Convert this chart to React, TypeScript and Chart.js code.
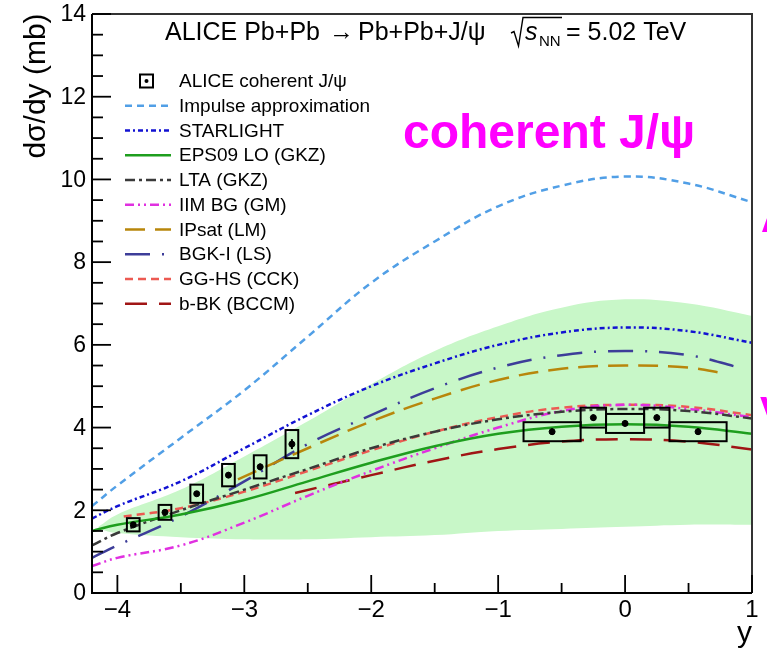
import React, { useEffect, useRef } from "react";
import { Chart, registerables } from "chart.js";

Chart.register(...registerables);

// ---------- axis ranges / ticks ----------
const X_MIN = -4.2;
const X_MAX = 1;
const Y_MIN = 0;
const Y_MAX = 14;
const xTickValues = [-4, -3, -2, -1, 0, 1];
const xTickLabels = ["\u22124", "\u22123", "\u22122", "\u22121", "0", "1"];
const yTickValues = [0, 2, 4, 6, 8, 10, 12, 14];
const yTickLabels = ["0", "2", "4", "6", "8", "10", "12", "14"];

// ---------- uncertainty band ----------
const bandX = [-4.15, -4.0, -3.5, -3.0, -2.5, -2.0, -1.5, -1.0, -0.5, 0, 0.5, 1.0];
const bandUpper = [1.6, 1.9, 2.5, 3.3, 4.15, 5.05, 5.85, 6.45, 6.9, 7.1, 7.0, 6.7];
const bandLower = [1.55, 1.45, 1.35, 1.3, 1.3, 1.35, 1.4, 1.5, 1.55, 1.6, 1.65, 1.65];

// ---------- model curves ----------
const fullGrid = [-4.2, -4.0, -3.5, -3.0, -2.5, -2.0, -1.5, -1.0, -0.5, 0, 0.5, 1.0];
const impulseY = [2.1, 2.6, 3.75, 4.9, 6.2, 7.5, 8.5, 9.35, 9.85, 10.07, 9.9, 9.45];
const starlightY = [1.8, 2.1, 2.7, 3.5, 4.3, 5.0, 5.55, 6.0, 6.3, 6.42, 6.33, 6.05];
const eps09Y = [1.5, 1.65, 1.9, 2.25, 2.7, 3.15, 3.55, 3.85, 4.02, 4.08, 4.02, 3.85];
const ltaY = [1.15, 1.45, 2.0, 2.5, 3.0, 3.5, 3.9, 4.2, 4.38, 4.45, 4.4, 4.22];
const iimY = [0.65, 0.85, 1.15, 1.7, 2.35, 2.95, 3.5, 4.0, 4.4, 4.55, 4.45, 4.25];
const ipsatX = [-3.05, -2.5, -2.0, -1.5, -1.0, -0.5, 0, 0.5, 0.8];
const ipsatY = [2.75, 3.5, 4.15, 4.7, 5.15, 5.42, 5.5, 5.45, 5.3];
const bgkX = [-4.2, -4.0, -3.5, -3.0, -2.5, -2.0, -1.5, -1.0, -0.5, 0, 0.5, 0.9];
const bgkY = [0.85, 1.15, 1.85, 2.7, 3.6, 4.3, 4.95, 5.45, 5.75, 5.85, 5.75, 5.45];
const gghsX = [-3.95, -3.5, -3.0, -2.5, -2.0, -1.5, -1.0, -0.5, 0, 0.5, 1.0];
const gghsY = [1.85, 2.05, 2.45, 2.95, 3.45, 3.9, 4.25, 4.48, 4.55, 4.5, 4.3];
const bbkX = [-2.6, -2.0, -1.5, -1.0, -0.5, 0, 0.5, 1.0];
const bbkY = [2.42, 2.85, 3.2, 3.48, 3.66, 3.72, 3.66, 3.47];

// ---------- ALICE data ----------
const dataY = [-3.875, -3.625, -3.375, -3.125, -2.875, -2.625, -0.575, -0.25, 0, 0.25, 0.575];
const dataVal = [1.65, 1.95, 2.4, 2.85, 3.05, 3.6, 3.9, 4.24, 4.1, 4.24, 3.9];
const dataStat = [0.05, 0.05, 0.06, 0.07, 0.08, 0.12, 0.08, 0.08, 0.07, 0.08, 0.08];
const dataSys = [0.16, 0.18, 0.22, 0.27, 0.28, 0.34, 0.23, 0.24, 0.23, 0.24, 0.23];
const boxLow = [-3.925, -3.675, -3.425, -3.175, -2.925, -2.675, -0.8, -0.35, -0.15, 0.15, 0.35];
const boxHigh = [-3.825, -3.575, -3.325, -3.075, -2.825, -2.575, -0.35, -0.15, 0.15, 0.35, 0.8];

const legendLabels = [
  "ALICE coherent J/\u03c8",
  "Impulse approximation",
  "STARLIGHT",
  "EPS09 LO (GKZ)",
  "LTA (GKZ)",
  "IIM BG (GM)",
  "IPsat (LM)",
  "BGK-I (LS)",
  "GG-HS (CCK)",
  "b-BK (BCCM)",
];

const FONT = '"Liberation Sans", Arial, sans-serif';

function pts(xs: number[], ys: number[]) {
  return xs.map((x, i) => ({ x, y: ys[i] }));
}

function curve(label: string, xs: number[], ys: number[], color: string, dash: number[]) {
  return {
    label,
    data: pts(xs, ys),
    borderColor: color,
    backgroundColor: color,
    borderWidth: 2.5,
    borderDash: dash,
    pointRadius: 0,
    fill: false,
    tension: 0.4,
    order: 10,
  };
}

const framePlugin = {
  id: "framePlugin",
  afterDatasetsDraw(chart: any) {
    const ctx = chart.ctx;
    const xs = chart.scales.x;
    const ys = chart.scales.y;
    ctx.save();
    ctx.strokeStyle = "#000";
    ctx.lineWidth = 2;
    ctx.setLineDash([]);
    for (let i = 0; i < dataY.length; i++) {
      const x0 = xs.getPixelForValue(boxLow[i]);
      const x1 = xs.getPixelForValue(boxHigh[i]);
      const y0 = ys.getPixelForValue(dataVal[i] + dataSys[i]);
      const y1 = ys.getPixelForValue(dataVal[i] - dataSys[i]);
      ctx.strokeRect(x0, y0, x1 - x0, y1 - y0);
      const cx = xs.getPixelForValue(dataY[i]);
      ctx.beginPath();
      ctx.moveTo(cx, ys.getPixelForValue(dataVal[i] + dataStat[i]));
      ctx.lineTo(cx, ys.getPixelForValue(dataVal[i] - dataStat[i]));
      ctx.stroke();
    }
    ctx.restore();
  },
  afterDraw(chart: any) {
    const ctx = chart.ctx;
    const { left, right, top, bottom } = chart.chartArea;
    const xs = chart.scales.x;
    const ys = chart.scales.y;
    ctx.save();
    ctx.setLineDash([]);
    // frame
    ctx.strokeStyle = "#333";
    ctx.lineWidth = 2;
    ctx.beginPath();
    ctx.moveTo(left, top);
    ctx.lineTo(right, top);
    ctx.lineTo(right, bottom);
    ctx.stroke();
    ctx.strokeStyle = "#000";
    ctx.beginPath();
    ctx.moveTo(left, top);
    ctx.lineTo(left, bottom);
    ctx.lineTo(right, bottom);
    ctx.stroke();
    // x ticks
    ctx.lineWidth = 1.8;
    for (let v = -4; v <= X_MAX + 1e-6; v += 0.5) {
      const px = xs.getPixelForValue(v);
      const major = Math.abs(v - Math.round(v)) < 1e-6;
      ctx.beginPath();
      ctx.moveTo(px, bottom);
      ctx.lineTo(px, bottom - (major ? 18 : 10));
      ctx.stroke();
    }
    // y ticks
    for (let v = Y_MIN; v <= Y_MAX + 1e-6; v += 0.5) {
      const py = ys.getPixelForValue(v);
      const major = Math.abs(v / 2 - Math.round(v / 2)) < 1e-6;
      ctx.beginPath();
      ctx.moveTo(left, py);
      ctx.lineTo(left + (major ? 19 : 11), py);
      ctx.stroke();
    }
    // tick labels
    ctx.fillStyle = "#000";
    ctx.font = `24px ${FONT}`;
    ctx.textAlign = "center";
    ctx.textBaseline = "top";
    xTickValues.forEach((v, i) => {
      ctx.fillText(xTickLabels[i], xs.getPixelForValue(v), bottom + 5);
    });
    ctx.font = `23px ${FONT}`;
    ctx.textAlign = "right";
    ctx.textBaseline = "middle";
    yTickValues.forEach((v, i) => {
      ctx.fillText(yTickLabels[i], 86, ys.getPixelForValue(v) + 1);
    });
    // axis titles
    ctx.font = `30px ${FONT}`;
    ctx.textAlign = "right";
    ctx.textBaseline = "alphabetic";
    ctx.fillText("y", right, 642);
    ctx.save();
    ctx.translate(37, 86);
    ctx.rotate(-Math.PI / 2);
    ctx.textAlign = "center";
    ctx.textBaseline = "middle";
    ctx.fillText("d\u03c3/dy (mb)", 0, 0);
    ctx.restore();

    // title
    ctx.textAlign = "left";
    ctx.textBaseline = "alphabetic";
    ctx.font = `25px ${FONT}`;
    ctx.fillText("ALICE Pb+Pb", 165, 40);
    ctx.fillText("\u2192", 329, 40);
    ctx.fillText("Pb+Pb+J/\u03c8", 358, 40);
    ctx.lineWidth = 1.4;
    ctx.strokeStyle = "#000";
    ctx.beginPath();
    ctx.moveTo(511, 33);
    ctx.lineTo(514, 31.5);
    ctx.lineTo(518.5, 46);
    ctx.lineTo(523, 17.5);
    ctx.lineTo(562, 17.5);
    ctx.stroke();
    ctx.font = `italic 25px ${FONT}`;
    ctx.fillText("s", 525, 40);
    ctx.font = `15px ${FONT}`;
    ctx.fillText("NN", 539, 46);
    ctx.font = `25px ${FONT}`;
    ctx.fillText("= 5.02 TeV", 566, 40);

    // legend
    ctx.font = `19px ${FONT}`;
    ctx.textBaseline = "middle";
    const ds = chart.data.datasets;
    legendLabels.forEach((lab, i) => {
      const y = 81 + i * 24.75;
      if (i === 0) {
        ctx.setLineDash([]);
        ctx.lineWidth = 2;
        ctx.strokeStyle = "#000";
        ctx.strokeRect(140, y - 6.5, 13, 13);
        ctx.beginPath();
        ctx.arc(146.5, y, 2, 0, Math.PI * 2);
        ctx.fill();
      } else {
        const d = ds[i + 1];
        ctx.strokeStyle = d.borderColor;
        ctx.lineWidth = d.borderWidth;
        ctx.setLineDash(d.borderDash);
        ctx.beginPath();
        ctx.moveTo(125, y);
        ctx.lineTo(171, y);
        ctx.stroke();
      }
      ctx.setLineDash([]);
      ctx.fillStyle = "#000";
      ctx.fillText(lab, 179, y + 1);
    });

    // annotation
    ctx.fillStyle = "#ff00ff";
    ctx.font = `bold 48px ${FONT}`;
    ctx.textBaseline = "alphabetic";
    ctx.textAlign = "left";
    ctx.fillText("coherent J/\u03c8", 403, 148);
    ctx.font = `bold 40px ${FONT}`;
    ctx.fillText("A", 761, 232);
    ctx.fillText("V", 760, 425);
    ctx.restore();
  },
};

export default function App() {
  const ref = useRef<HTMLCanvasElement | null>(null);
  useEffect(() => {
    if (!ref.current) return;
    const datasets: any[] = [
      {
        label: "band upper",
        data: pts(bandX, bandUpper),
        borderWidth: 0,
        borderColor: "rgba(0,0,0,0)",
        backgroundColor: "#c8f7c8",
        pointRadius: 0,
        tension: 0.4,
        fill: "+1",
        order: 100,
      },
      {
        label: "band lower",
        data: pts(bandX, bandLower),
        borderWidth: 0,
        borderColor: "rgba(0,0,0,0)",
        pointRadius: 0,
        tension: 0.4,
        fill: false,
        order: 100,
      },
      curve("Impulse approximation", fullGrid, impulseY, "#519fe6", [7, 5]),
      curve("STARLIGHT", fullGrid, starlightY, "#1212d2", [5, 3, 2, 3]),
      curve("EPS09 LO (GKZ)", fullGrid, eps09Y, "#1e9e1e", []),
      curve("LTA (GKZ)", fullGrid, ltaY, "#3a3a3a", [10, 4, 3, 4]),
      curve("IIM BG (GM)", fullGrid, iimY, "#e030e0", [9, 4, 2, 4, 2, 4]),
      curve("IPsat (LM)", ipsatX, ipsatY, "#b8860b", [20, 10]),
      curve("BGK-I (LS)", bgkX, bgkY, "#3d3d99", [25, 12, 2, 12]),
      curve("GG-HS (CCK)", gghsX, gghsY, "#ec5a52", [8, 5]),
      curve("b-BK (BCCM)", bbkX, bbkY, "#a01515", [22, 12]),
      {
        label: "ALICE coherent J/\u03c8",
        data: pts(dataY, dataVal),
        showLine: false,
        pointRadius: 3,
        pointBackgroundColor: "#000",
        pointBorderColor: "#000",
        borderColor: "#000",
        order: 0,
      },
    ];
    const chart = new Chart(ref.current, {
      type: "line",
      data: { datasets },
      options: {
        animation: false,
        responsive: false,
        devicePixelRatio: 1,
        layout: { padding: { left: 92, top: 14, right: 15, bottom: 58 } },
        scales: {
          x: { type: "linear", min: X_MIN, max: X_MAX, display: false },
          y: { type: "linear", min: Y_MIN, max: Y_MAX, display: false },
        },
        plugins: {
          legend: { display: false },
          tooltip: { enabled: false },
        },
      },
      plugins: [framePlugin],
    } as any);
    return () => chart.destroy();
  }, []);
  return (
    <div style={{ position: "fixed", left: 0, top: 0, width: 767, height: 651, background: "#fff" }}>
      <canvas ref={ref} width={767} height={651} style={{ display: "block" }} />
    </div>
  );
}
